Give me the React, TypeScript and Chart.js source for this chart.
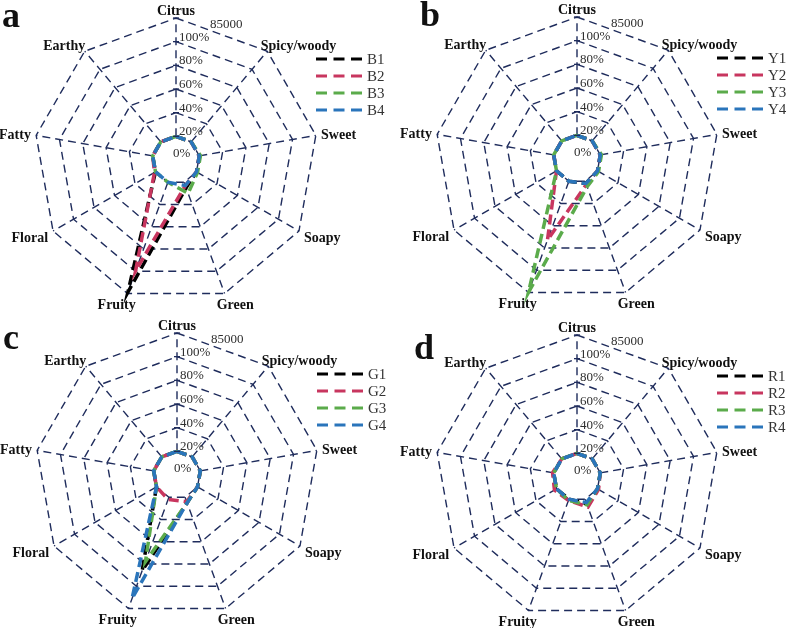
import React, { useEffect, useRef } from 'react';
import { Chart, registerables } from 'chart.js';

Chart.register(...registerables);

// Aroma categories, clockwise from the top axis
const CATEGORIES = ['Citrus', 'Spicy/woody', 'Sweet', 'Soapy', 'Green', 'Fruity', 'Floral', 'Fatty', 'Earthy'];

// Radial value axis
const SCALE_MAX = 120;
const SCALE_STEP = 20;
const TICK_LABELS = ['0%', '20%', '40%', '60%', '80%', '100%', '85000'];

// Panel a
const NAMES_A = ['B1', 'B2', 'B3', 'B4'];
const B1 = [20, 20, 20, 20, 25, 119, 20, 20, 20];
const B2 = [20, 20, 20, 20, 23, 100, 21, 20, 20];
const B3 = [20, 20, 21, 21, 30, 20, 20, 20, 20];
const B4 = [20, 20, 20, 20, 23, 20, 20, 20, 20];

// Panel b
const NAMES_B = ['Y1', 'Y2', 'Y3', 'Y4'];
const Y1 = [20, 20, 20, 20, 22, 20, 20, 20, 20];
const Y2 = [20, 20, 20, 20, 23, 73, 20, 20, 20];
const Y3 = [20, 20, 21, 21, 25, 120, 20, 20, 20];
const Y4 = [20, 20, 20, 20, 22, 20, 20, 20, 20];

// Panel c
const NAMES_C = ['G1', 'G2', 'G3', 'G4'];
const G1 = [20, 20, 20, 20, 25, 86, 20, 20, 20];
const G2 = [20, 20, 20, 20, 24, 22, 20, 20, 20];
const G3 = [20, 20, 20, 20, 25, 78, 20, 20, 20];
const G4 = [20, 20, 20, 20, 25, 111, 20, 20, 20];

// Panel d
const NAMES_D = ['R1', 'R2', 'R3', 'R4'];
const R1 = [20, 20, 20, 20, 24, 20, 20, 20, 20];
const R2 = [20, 20, 20, 21, 27, 21, 22, 21, 20];
const R3 = [20, 20, 20, 20, 25, 21, 20, 20, 20];
const R4 = [20, 20, 20, 20, 23, 20, 20, 20, 20];

const SERIES_COLORS = ['#000000', '#c8365f', '#5bab4b', '#2a75bb'];
const GRID_COLOR = '#1f2c5c';
const GRID_DASH = [8, 5];
const SERIF = '"Liberation Serif", "Times New Roman", serif';

type PanelLayout = {
  left: number;
  top: number;
  width: number;
  height: number;
  cx: number; // centre of the web, in panel coordinates
  cy: number;
  radius: number;
  letterX: number;
  letterY: number;
};

type PanelProps = {
  letter: string;
  names: string[];
  series: number[][];
  layout: PanelLayout;
};

function makeOverlay(letter: string, layout: PanelLayout) {
  return {
    id: 'radarOverlay',
    // spokes run from the first ring out to the rim
    beforeDatasetsDraw(chart: any) {
      const scale = chart.scales.r;
      const ctx: CanvasRenderingContext2D = chart.ctx;
      const inner = scale.getDistanceFromCenterForValue(SCALE_STEP);
      const outer = scale.getDistanceFromCenterForValue(SCALE_MAX);
      ctx.save();
      ctx.strokeStyle = GRID_COLOR;
      ctx.lineWidth = 1.4;
      ctx.setLineDash(GRID_DASH);
      chart.data.labels.forEach((_: string, i: number) => {
        const p0 = scale.getPointPosition(i, inner);
        const p1 = scale.getPointPosition(i, outer);
        ctx.beginPath();
        ctx.moveTo(p0.x, p0.y);
        ctx.lineTo(p1.x, p1.y);
        ctx.stroke();
      });
      ctx.restore();
    },
    afterDraw(chart: any) {
      const scale = chart.scales.r;
      const ctx: CanvasRenderingContext2D = chart.ctx;
      const cx = scale.xCenter;
      const cy = scale.yCenter;
      const R = scale.drawingArea;
      const ticks = scale.ticks as { value: number }[];

      ctx.save();

      // small tick marks across the value axis
      ctx.strokeStyle = GRID_COLOR;
      ctx.lineWidth = 1.3;
      ctx.setLineDash([]);
      ticks.forEach((t, i) => {
        if (i === 0) return;
        const y = cy - scale.getDistanceFromCenterForValue(t.value);
        ctx.beginPath();
        ctx.moveTo(cx - 3, y);
        ctx.lineTo(cx + 3, y);
        ctx.stroke();
      });

      // value-axis labels
      ctx.font = `13px ${SERIF}`;
      ctx.fillStyle = '#2e2e2e';
      ctx.textAlign = 'left';
      ticks.forEach((t, i) => {
        const text = TICK_LABELS[i] ?? '';
        const y = cy - scale.getDistanceFromCenterForValue(t.value);
        if (i === ticks.length - 1) {
          ctx.textBaseline = 'top';
          ctx.fillText(text, cx + 34, y);
        } else if (i === 0) {
          ctx.textBaseline = 'alphabetic';
          ctx.fillText(text, cx - 3, cy - 3);
        } else {
          ctx.textBaseline = 'alphabetic';
          ctx.fillText(text, cx + 3, y - 1);
        }
      });

      // category labels around the web
      ctx.font = `bold 14px ${SERIF}`;
      ctx.fillStyle = '#111111';
      ctx.textAlign = 'center';
      ctx.textBaseline = 'alphabetic';
      const capH = 9.4;
      const labels: string[] = chart.data.labels;
      labels.forEach((label, i) => {
        const a = scale.getIndexAngle(i);
        const p = scale.getPointPosition(i, R);
        const w = ctx.measureText(label).width;
        const s = Math.sin(a);
        const c = Math.cos(a);
        const gapX = 4 + 9 * Math.abs(c);
        const gapY = c > 0 ? 3.5 : 7;
        const x = p.x + s * (w / 2 + gapX);
        const yMid = p.y - c * (capH / 2 + gapY);
        ctx.fillText(label, x, yMid + capH / 2);
      });

      // legend
      chart.data.datasets.forEach((ds: any, i: number) => {
        const y = cy - 101 + i * 17;
        ctx.strokeStyle = ds.borderColor;
        ctx.lineWidth = 3.2;
        ctx.setLineDash([11, 6.5]);
        ctx.beginPath();
        ctx.moveTo(cx + 140, y);
        ctx.lineTo(cx + 186, y);
        ctx.stroke();
        ctx.setLineDash([]);
        ctx.font = `15px ${SERIF}`;
        ctx.fillStyle = '#333333';
        ctx.textAlign = 'left';
        ctx.textBaseline = 'middle';
        ctx.fillText(ds.label, cx + 191, y + 1);
      });

      // panel letter
      ctx.font = `bold 36px ${SERIF}`;
      ctx.fillStyle = '#111111';
      ctx.textAlign = 'left';
      ctx.textBaseline = 'alphabetic';
      ctx.fillText(letter, layout.letterX, layout.letterY);

      ctx.restore();
    },
  };
}

function RadarPanel({ letter, names, series, layout }: PanelProps) {
  const canvasRef = useRef<HTMLCanvasElement | null>(null);

  useEffect(() => {
    const canvas = canvasRef.current;
    if (!canvas) return;
    const { width, height, cx, cy, radius } = layout;
    const chart = new Chart(canvas, {
      type: 'radar',
      data: {
        labels: CATEGORIES,
        datasets: series.map((values, i) => ({
          label: names[i],
          data: values,
          borderColor: SERIES_COLORS[i],
          backgroundColor: 'transparent',
          borderWidth: 3.5,
          borderDash: [10, 5],
          fill: false,
          pointRadius: 0,
          pointHoverRadius: 0,
          tension: 0,
          clip: false,
          order: series.length - 1 - i,
        })),
      },
      options: {
        responsive: false,
        animation: false,
        events: [],
        layout: {
          padding: {
            left: cx - radius,
            top: cy - radius,
            right: width - cx - radius,
            bottom: height - cy - radius,
          },
        },
        plugins: {
          legend: { display: false },
          tooltip: { enabled: false },
        },
        scales: {
          r: {
            min: 0,
            max: SCALE_MAX,
            ticks: { display: false, stepSize: SCALE_STEP },
            pointLabels: { display: false },
            grid: { color: GRID_COLOR, lineWidth: 1.4 },
            border: { dash: GRID_DASH },
            angleLines: { display: false },
          },
        },
      } as any,
      plugins: [makeOverlay(letter, layout)],
    });
    return () => chart.destroy();
  }, [letter, names, series, layout]);

  return (
    <canvas
      ref={canvasRef}
      width={layout.width}
      height={layout.height}
      style={{ position: 'absolute', left: layout.left, top: layout.top, width: layout.width, height: layout.height }}
    />
  );
}

const LAYOUT_A: PanelLayout = { left: 0, top: 0, width: 394, height: 314, cx: 176, cy: 160, radius: 142, letterX: 2, letterY: 27 };
const LAYOUT_B: PanelLayout = { left: 394, top: 0, width: 393, height: 314, cx: 183, cy: 159, radius: 142, letterX: 26, letterY: 26 };
const LAYOUT_C: PanelLayout = { left: 0, top: 314, width: 394, height: 314, cx: 177, cy: 161, radius: 142, letterX: 3, letterY: 35 };
const LAYOUT_D: PanelLayout = { left: 394, top: 314, width: 393, height: 314, cx: 183, cy: 163, radius: 142, letterX: 20, letterY: 45 };

const SERIES_A = [B1, B2, B3, B4];
const SERIES_B = [Y1, Y2, Y3, Y4];
const SERIES_C = [G1, G2, G3, G4];
const SERIES_D = [R1, R2, R3, R4];

export default function App() {
  return (
    <div style={{ position: 'absolute', left: 0, top: 0, width: 787, height: 628, background: '#ffffff' }}>
      <RadarPanel letter="a" names={NAMES_A} series={SERIES_A} layout={LAYOUT_A} />
      <RadarPanel letter="b" names={NAMES_B} series={SERIES_B} layout={LAYOUT_B} />
      <RadarPanel letter="c" names={NAMES_C} series={SERIES_C} layout={LAYOUT_C} />
      <RadarPanel letter="d" names={NAMES_D} series={SERIES_D} layout={LAYOUT_D} />
    </div>
  );
}
